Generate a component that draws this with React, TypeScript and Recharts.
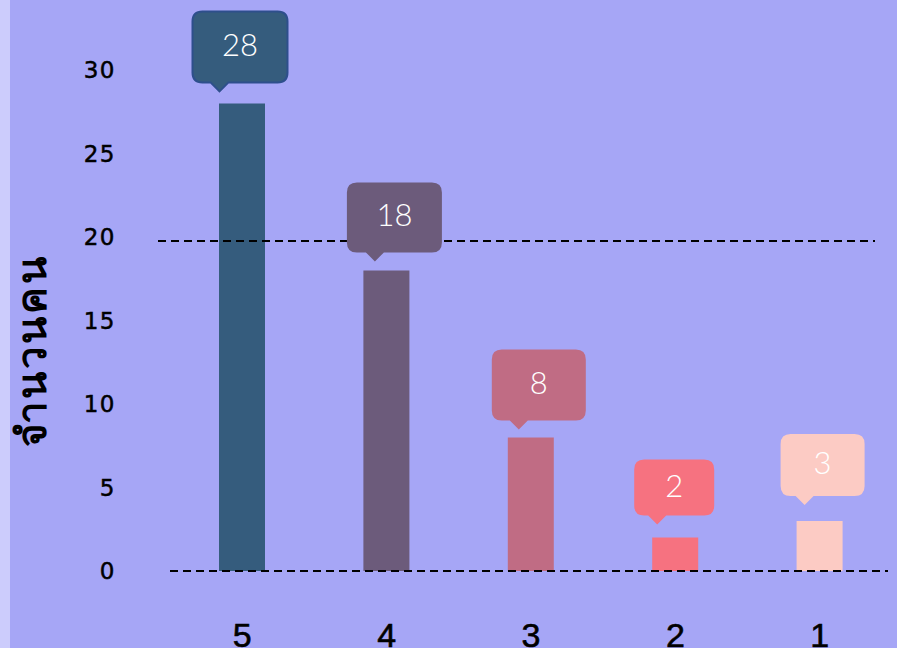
import React from 'react'
import { BarChart, Bar, XAxis, YAxis, ReferenceLine, LabelList, Cell, Label } from 'recharts'

const categories = ['5', '4', '3', '2', '1']
const counts = [28, 18, 8, 2, 3]
const yTicks = [0, 5, 10, 15, 20, 25, 30]
const refLevels = [20, 0]
const yTitle = 'จำนวนคน'

const COLORS = ['#355C7D', '#6C5B7B', '#C06C84', '#F67280', '#FCCBC4']

// bubble geometry per bar (size, horizontal nudge, gap above bar, tail offset from box left)
const BUBBLES = [
  { w: 95, h: 71, dx: -2, gap: 21, tail: 27 },
  { w: 95, h: 70, dx: 8, gap: 18, tail: 28 },
  { w: 94, h: 71, dx: 8, gap: 17, tail: 27 },
  { w: 80, h: 56, dx: -1, gap: 22, tail: 23 },
  { w: 84, h: 62, dx: 3, gap: 25, tail: 24 },
]

const data = categories.map((name, i) => ({ name, value: counts[i] }))

const renderBubble = (props: any) => {
  const { x, y, width, value, index } = props
  const s = BUBBLES[index]
  if (!s) return null
  const cx = Number(x) + Number(width) / 2 + s.dx
  const bottom = Number(y) - s.gap
  const top = bottom - s.h
  const left = cx - s.w / 2
  const right = cx + s.w / 2
  const r = 10
  const tx = left + s.tail
  const d = `M${left + r},${top} H${right - r} Q${right},${top} ${right},${top + r} V${bottom - r} Q${right},${bottom} ${right - r},${bottom} H${tx + 9} L${tx},${bottom + 9} L${tx - 9},${bottom} H${left + r} Q${left},${bottom} ${left},${bottom - r} V${top + r} Q${left},${top} ${left + r},${top} Z`
  return (
    <g>
      <path d={d} fill={COLORS[index]} stroke={index === 0 ? '#2E4F8C' : 'none'} strokeWidth={2} />
      <text x={cx} y={top + s.h / 2 - 3} textAnchor="middle" dominantBaseline="central" fill="#fff"
        fontFamily="Lato, 'Open Sans', sans-serif" fontWeight={300} fontSize={31}>
        {value}
      </text>
    </g>
  )
}

const YTick = (props: any) => {
  const { y, payload } = props
  return (
    <text x={116} y={y} textAnchor="end" dominantBaseline="central" fill="#000" stroke="#000" strokeWidth={0.5}
      fontFamily="'DejaVu Sans', sans-serif" fontSize={23} letterSpacing={1.5}>
      {payload.value}
    </text>
  )
}

const XTick = (props: any) => {
  const { x, payload } = props
  return (
    <text x={x} y={647} textAnchor="middle" fill="#000" stroke="#000" strokeWidth={0.6}
      fontFamily="'Liberation Sans Narrow', 'Liberation Sans', sans-serif" fontSize={34}>
      {payload.value}
    </text>
  )
}

const yLabel = () => (
  <text x={30} y={350} transform="rotate(-90 30 350)" textAnchor="middle" dominantBaseline="central"
    fill="#000" fontFamily="'Noto Sans', sans-serif" fontWeight={700} fontSize={40} letterSpacing={3}>
    {yTitle}
  </text>
)

const dashedShape = (shift1: number, shift2: number, dy: number) => (p: any) => (
  <line x1={p.x1 + shift1} y1={p.y1 + dy} x2={p.x2 + shift2} y2={p.y2 + dy}
    stroke="#000" strokeWidth={2} strokeDasharray="8 5" />
)

export default function App() {
  return (
    <div style={{ width: 897, height: 648, background: 'linear-gradient(to right, #CCCCFC 10px, #A6A6F6 10px)' }}>
      <style>{'body{margin:0}'}</style>
      <BarChart width={897} height={648} data={data} margin={{ top: 70, right: 5, bottom: 0, left: 10 }}>
        <XAxis dataKey="name" height={77} axisLine={false} tickLine={false} tick={<XTick />} interval={0} />
        <YAxis width={160} domain={[0, 30]} ticks={yTicks} axisLine={false} tickLine={false} tick={<YTick />}
          label={<Label content={yLabel} />} />
        <ReferenceLine y={refLevels[0]} shape={dashedShape(-12, -17, 4)} />
        <Bar dataKey="value" barSize={46} isAnimationActive={false}>
          {data.map((_, i) => (
            <Cell key={i} fill={COLORS[i]} />
          ))}
          <LabelList dataKey="value" content={renderBubble} />
        </Bar>
        <ReferenceLine y={refLevels[1]} shape={dashedShape(0, -4, 0)} />
      </BarChart>
    </div>
  )
}
